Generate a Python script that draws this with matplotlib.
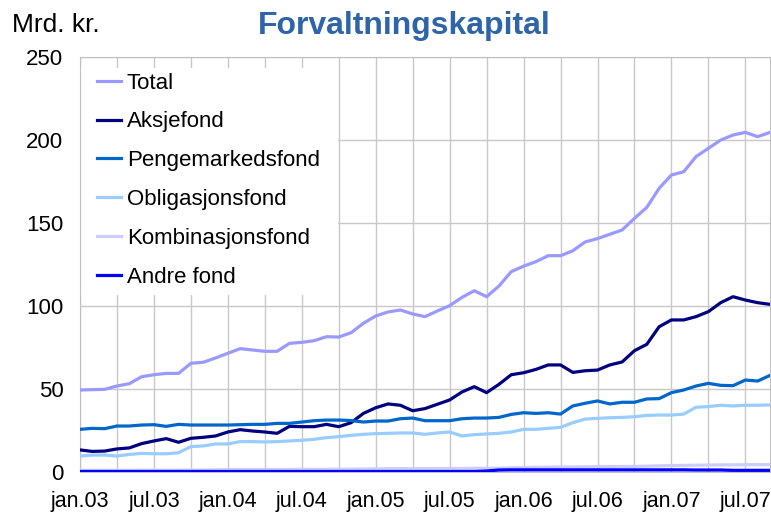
import numpy as np
import matplotlib
matplotlib.use("Agg")
import matplotlib.pyplot as plt
from matplotlib.patches import Rectangle

plt.rcParams['font.family'] = ['Liberation Sans', 'DejaVu Sans']

# monthly values, jan.03 - sep.07 (mrd. kr.)
total = [49.4, 49.6, 49.8, 51.8, 53.2, 57.4, 58.6, 59.4, 59.4, 65.5,
         66.1, 68.7, 71.5, 74.3, 73.5, 72.7, 72.7, 77.5, 78.1, 79.1,
         81.5, 81.3, 83.9, 89.6, 94.0, 96.4, 97.6, 95.2, 93.6, 97.0,
         100.2, 105.2, 109.2, 105.6, 112.0, 120.7, 124.0, 126.7, 130.3, 130.3,
         133.3, 138.6, 140.6, 143.2, 145.8, 152.8, 159.4, 170.9, 178.9, 180.9,
         190.0, 195.0, 200.0, 203.0, 204.6, 202.0, 204.6]
aksje = [13.3, 12.4, 12.6, 13.9, 14.5, 17.1, 18.7, 20.1, 17.9, 20.3,
         20.9, 21.7, 24.1, 25.5, 24.7, 24.1, 23.3, 27.5, 27.3, 27.3,
         28.7, 27.3, 29.7, 35.3, 38.7, 41.0, 40.2, 36.9, 38.2, 40.8,
         43.4, 48.2, 51.4, 47.8, 52.8, 58.6, 59.8, 61.8, 64.5, 64.5,
         60.0, 61.0, 61.4, 64.5, 66.3, 73.1, 76.9, 87.5, 91.6, 91.6,
         93.6, 96.6, 102.0, 105.6, 103.6, 102.0, 101.0]
penge = [25.7, 26.3, 26.1, 27.7, 27.7, 28.3, 28.5, 27.5, 28.7, 28.3,
         28.3, 28.3, 28.3, 28.5, 28.7, 28.7, 29.3, 29.3, 30.1, 30.9,
         31.3, 31.3, 31.0, 30.1, 30.7, 30.7, 32.1, 32.5, 30.9, 30.9,
         30.9, 32.1, 32.5, 32.5, 32.9, 34.7, 35.7, 35.3, 35.7, 34.9,
         39.8, 41.4, 42.8, 41.0, 42.0, 42.0, 44.0, 44.2, 47.8, 49.4,
         51.8, 53.4, 52.2, 52.0, 55.4, 54.8, 58.2]
oblig = [9.6, 10.2, 10.2, 9.6, 10.6, 11.2, 11.0, 11.0, 11.6, 15.3,
         15.7, 16.9, 16.9, 18.3, 18.3, 18.1, 18.3, 18.7, 19.1, 19.7,
         20.7, 21.3, 22.1, 22.7, 23.1, 23.3, 23.5, 23.5, 22.7, 23.5,
         24.1, 21.7, 22.5, 22.9, 23.3, 24.1, 25.7, 25.7, 26.3, 26.9,
         29.7, 31.9, 32.3, 32.7, 32.9, 33.3, 34.1, 34.3, 34.3, 34.9,
         39.0, 39.4, 40.2, 39.8, 40.2, 40.2, 40.4]
kombi = [1.0, 1.0, 1.0, 1.0, 1.0, 1.1, 1.1, 1.1, 1.1, 1.2,
         1.2, 1.3, 1.4, 1.5, 1.5, 1.5, 1.5, 1.5, 1.6, 1.6,
         1.6, 1.7, 1.7, 1.8, 1.9, 2.0, 2.0, 2.0, 2.0, 2.0,
         2.1, 2.1, 2.2, 2.2, 2.3, 2.5, 2.7, 2.8, 2.9, 3.0,
         3.0, 3.1, 3.2, 3.2, 3.3, 3.4, 3.5, 3.7, 3.9, 4.0,
         4.1, 4.2, 4.3, 4.3, 4.4, 4.4, 4.5]
andre = [0.3, 0.3, 0.3, 0.3, 0.3, 0.3, 0.3, 0.3, 0.3, 0.3,
         0.3, 0.3, 0.3, 0.3, 0.3, 0.3, 0.3, 0.3, 0.3, 0.3,
         0.3, 0.3, 0.3, 0.3, 0.3, 0.3, 0.3, 0.3, 0.3, 0.3,
         0.3, 0.3, 0.3, 0.6, 1.2, 1.3, 1.3, 1.3, 1.3, 1.3,
         1.3, 1.3, 1.3, 1.3, 1.3, 1.3, 1.3, 1.3, 1.3, 1.3,
         1.2, 1.2, 1.2, 1.0, 1.0, 1.0, 1.0]

tick_labels = ["jan.03", "jul.03", "jan.04", "jul.04", "jan.05",
               "jul.05", "jan.06", "jul.06", "jan.07", "jul.07"]

series = [
    ("Total", total, "#9999ff"),
    ("Aksjefond", aksje, "#000080"),
    ("Pengemarkedsfond", penge, "#0066cc"),
    ("Obligasjonsfond", oblig, "#99ccff"),
    ("Kombinasjonsfond", kombi, "#ccccff"),
    ("Andre fond", andre, "#0000ff"),
]

x = np.arange(len(total))

fig = plt.figure(figsize=(7.71, 5.14), dpi=100)
ax = fig.add_axes([80/771, 1 - 472/514, 690/771, 415/514])

for name, vals, col in series:
    ax.plot(x, vals, color=col, lw=2.3, label=name, solid_joinstyle='round', zorder=3)

ax.set_xlim(0, len(total) - 1)
ax.set_ylim(0, 250)
ax.set_yticks(np.arange(0, 251, 50))
ax.set_xticks(np.arange(0, len(total), 6))
ax.set_xticklabels(tick_labels)
ax.set_xticks(np.arange(0, len(total), 3), minor=True)
ax.grid(True, which='both', color='#c8c8c8', lw=1, zorder=0)
ax.tick_params(which='both', length=0, labelsize=15.5)
ax.tick_params(axis='y', pad=12, labelsize=16)
ax.tick_params(axis='x', pad=14)
for s in ax.spines.values():
    s.set_color('#c0c0c0')

# white box behind the legend, hides the gridlines there
ax.add_patch(Rectangle((0.002, 0.4265), 0.372, 0.548, transform=ax.transAxes,
                       facecolor='white', edgecolor='none', zorder=2))

leg = ax.legend(loc='upper left', bbox_to_anchor=(0, 1 + 1/415), fontsize=16,
                frameon=False, borderpad=0.75, borderaxespad=0,
                handlelength=1.1, handletextpad=0.25, labelspacing=0.8)
leg.set_zorder(5)

fig.text(12/771, 1 - 25/514, "Mrd. kr.", fontsize=19, va='center', ha='left')
fig.text(404/771, 1 - 26/514, "Forvaltningskapital", fontsize=23, fontweight='bold',
         color='#2e64a8', va='center', ha='center')

fig.savefig("out.png", dpi=100)
